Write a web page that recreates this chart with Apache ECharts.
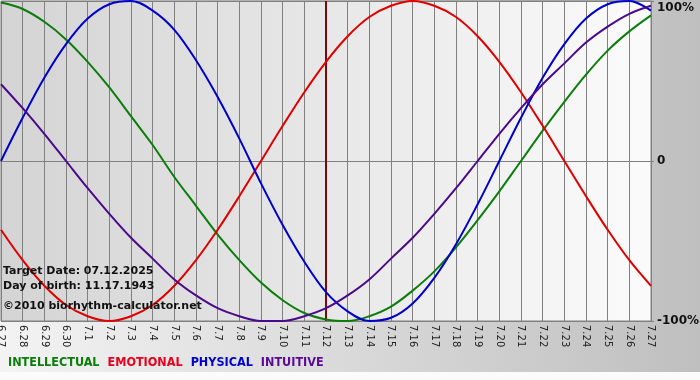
<!DOCTYPE html>
<html>
<head>
<meta charset="utf-8">
<script src="https://cdn.jsdelivr.net/npm/echarts@6/dist/echarts.min.js"></script>
<style>html,body{margin:0;padding:0;}#c{width:700px;height:380px;}</style>
</head>
<body>
<div id="c"></div>
<script>
var dates = ['6.27','6.28','6.29','6.30','7.1','7.2','7.3','7.4','7.5','7.6','7.7','7.8','7.9','7.10','7.11','7.12','7.13','7.14','7.15','7.16','7.17','7.18','7.19','7.20','7.21','7.22','7.23','7.24','7.25','7.26','7.27'];
var intellectual = [99,95,87,76,62,46,28,10,-10,-28,-46,-62,-76,-87,-95,-99,-100,-97,-91,-81,-69,-54,-37,-19,0,19,37,54,69,81,91];
var emotional = [-43,-62,-78,-90,-97,-100,-97,-90,-78,-62,-43,-22,0,22,43,62,78,90,97,100,97,90,78,62,43,22,0,-22,-43,-62,-78];
var physical = [0,27,52,73,89,98,100,94,82,63,40,14,-14,-40,-63,-82,-94,-100,-98,-89,-73,-52,-27,0,27,52,73,89,98,100,94];
var intuitive = [48,33,17,0,-17,-33,-48,-61,-74,-84,-92,-97,-100,-100,-97,-92,-84,-74,-61,-48,-33,-17,0,17,33,48,61,74,84,92,97];
var targetDate = '7.12';
var infoLines = ['Target Date: 07.12.2025', 'Day of birth: 11.17.1943', '\u00a92010 biorhythm-calculator.net'];
var names = ['INTELLECTUAL','EMOTIONAL','PHYSICAL','INTUITIVE'];
var colors = ['#0a7d0a','#e00000','#0000cc','#4b0a8a'];
var legendColors = ['#0a7d0a','#e8001c','#0000cc','#5a0a96'];

var chart = echarts.init(document.getElementById('c'), null, {renderer:'canvas'});
var font = 'DejaVu Sans';
function mkSeries(i, data){
  return {
    name: names[i], type:'line', data:data, smooth:0.35, symbol:'none',
    lineStyle:{color:colors[i], width:2}, itemStyle:{color:colors[i]},
    emphasis:{disabled:true}, z: 3
  };
}
var series = [mkSeries(0,intellectual), mkSeries(1,emotional), mkSeries(2,physical), mkSeries(3,intuitive)];
series[0].markLine = {
  silent:true, symbol:['none','none'], label:{show:false},
  lineStyle:{color:'#7a0a0a', width:2, type:'solid'},
  data:[{xAxis: targetDate}], z: 2
};
var option = {
  animation:false,
  backgroundColor: new echarts.graphic.LinearGradient(0,0,1,0,[{offset:0,color:'#f3f3f3'},{offset:1,color:'#bfbfbf'}]),
  grid:{left:1, right:49, top:1, bottom:59, show:true, containLabel:false, outerBoundsMode:'none',
    backgroundColor: new echarts.graphic.LinearGradient(0,0,1,0,[{offset:0,color:'#d4d4d4'},{offset:1,color:'#fbfbfb'}]),
    borderColor:'#808080', borderWidth:1},
  legend:{
    left:-2, top:351, icon:'none', itemWidth:0, itemHeight:10, itemGap:3,
    selectedMode:false,
    textStyle:{fontFamily:'DejaVu Sans Condensed', fontWeight:'bold', fontSize:12.5},
    data: names.map(function(n,i){return {name:n, textStyle:{color:legendColors[i]}};})
  },
  xAxis:{
    type:'category', data:dates, boundaryGap:false,
    axisLine:{show:true, lineStyle:{color:'#808080'}},
    axisTick:{show:true, length:3, lineStyle:{color:'#808080'}, interval:0},
    axisLabel:{rotate:-90, interval:0, fontFamily:font, fontSize:10, color:'#222', margin:4},
    splitLine:{show:true, interval:0, lineStyle:{color:'#808080', width:1}}
  },
  yAxis:{
    type:'value', min:-100, max:100, interval:100, position:'right',
    axisLine:{show:true, lineStyle:{color:'#808080'}},
    axisTick:{show:true, length:3, lineStyle:{color:'#808080'}},
    axisLabel:{fontFamily:font, fontWeight:'bold', fontSize:12, color:'#111', margin:6,
      formatter:function(v){ if(v===100) return '{t|100%}'; return v===0?'0':v+'%';},
      rich:{t:{fontFamily:font, fontWeight:'bold', fontSize:12, color:'#111', padding:[14,0,0,0]}}},
    splitLine:{show:true, lineStyle:{color:'#808080', width:1}}
  },
  graphic:[
    {type:'rect', left:0, top:372, shape:{width:700, height:8}, style:{fill:'#fbfbfb'}, silent:true},
    {type:'text', left:3, top:266, z:10, style:{text:infoLines[0], font:'bold 11px "DejaVu Sans"', fill:'#111'}},
    {type:'text', left:3, top:281, z:10, style:{text:infoLines[1], font:'bold 11px "DejaVu Sans"', fill:'#111'}},
    {type:'text', left:3, top:301, z:10, style:{text:infoLines[2], font:'bold 11px "DejaVu Sans"', fill:'#111'}}
  ],
  series:series
};
chart.setOption(option);
</script>
</body>
</html>
